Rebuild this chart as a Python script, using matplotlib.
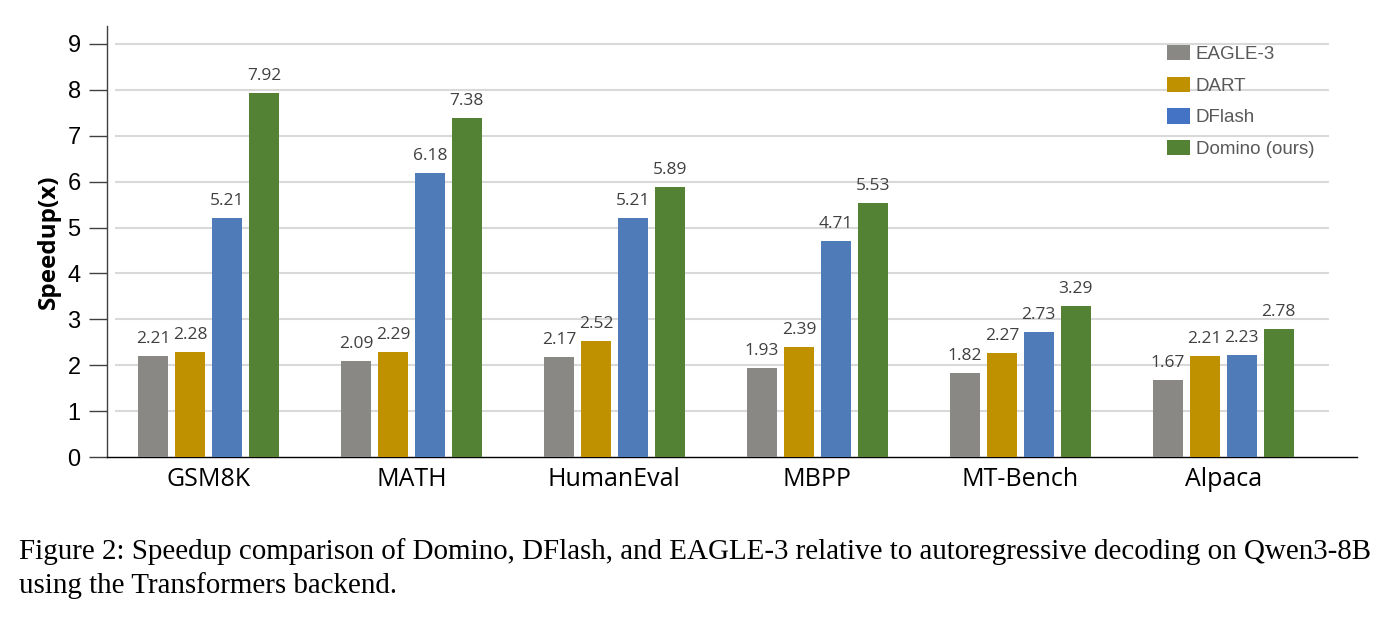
import matplotlib
matplotlib.use("Agg")
import matplotlib.pyplot as plt
from matplotlib.patches import Patch
import numpy as np

categories = ["GSM8K", "MATH", "HumanEval", "MBPP", "MT-Bench", "Alpaca"]
series_names = ["EAGLE-3", "DART", "DFlash", "Domino (ours)"]
eagle3 = [2.21, 2.09, 2.17, 1.93, 1.82, 1.67]
dart = [2.28, 2.29, 2.52, 2.39, 2.27, 2.21]
dflash = [5.21, 6.18, 5.21, 4.71, 2.73, 2.23]
domino = [7.92, 7.38, 5.89, 5.53, 3.29, 2.78]
yticks = [0, 1, 2, 3, 4, 5, 6, 7, 8, 9]
caption_lines = ["Figure 2: Speedup comparison of Domino, DFlash, and EAGLE-3 relative to autoregressive decoding on Qwen3-8B",
                 "using the Transformers backend."]

colors = ["#8a8884", "#bf9000", "#4f7bb9", "#538234"]
legend_colors = ["#8a8884", "#bf9000", "#4472c4", "#548235"]

fig = plt.figure(figsize=(13.92, 6.19), dpi=100)
ax = fig.add_axes([0.0769, 0.2617, 0.975 - 0.0769, 0.6963])

x = np.arange(len(categories))
step = 0.182
width = 0.148
allseries = [eagle3, dart, dflash, domino]
for i, (vals, c) in enumerate(zip(allseries, colors)):
    pos = x + (i - 1.5) * step
    ax.bar(pos, vals, width=width, color=c, zorder=3, label=series_names[i])
    for p, v in zip(pos, vals):
        ax.annotate(f"{v:.2f}", (p, v), xytext=(0, 6.5), textcoords="offset points",
                    ha="center", va="bottom", fontsize=12.5, color="#404040",
                    family="Open Sans", zorder=4)

ax.set_xlim(-0.50, 5.66)
ax.set_ylim(0, 9.39)
ax.hlines(yticks[1:], -0.46, 5.52, colors="#d9d9d9", linewidth=1.5, zorder=1)

ax.set_xticks(x)
ax.set_xticklabels(categories, fontsize=18, family="Open Sans")
ax.tick_params(axis="x", length=0, pad=7)
ax.set_yticks(yticks)
ax.set_yticklabels([str(t) for t in yticks], fontsize=17, family="Liberation Sans")
ax.tick_params(axis="y", length=13, width=1, color="#404040", pad=6)
ax.set_ylabel("Speedup(x)", fontsize=17.5, fontweight="bold", family="Open Sans", labelpad=5)

for s in ["top", "right"]:
    ax.spines[s].set_visible(False)
ax.spines["left"].set_color("#404040")
ax.spines["bottom"].set_color("#000000")
ax.spines["left"].set_linewidth(1)
ax.spines["bottom"].set_linewidth(1)

handles = [Patch(facecolor=c, edgecolor="none") for c in legend_colors]
leg = ax.legend(handles, series_names, loc="upper left", bbox_to_anchor=(0.834, 0.995),
                frameon=False, prop={"family": "Liberation Sans", "size": 13.5},
                handlelength=1.25, handleheight=0.88, labelspacing=0.72, handletextpad=0.3)
for t in leg.get_texts():
    t.set_color("#595959")

fig.text(0.0137, 0.0969, caption_lines[0], fontsize=20.9, family="Liberation Serif",
         color="black", ha="left", va="baseline")
fig.text(0.0137, 0.042, caption_lines[1], fontsize=20.9, family="Liberation Serif",
         color="black", ha="left", va="baseline")

fig.savefig("out.png", dpi=100)
